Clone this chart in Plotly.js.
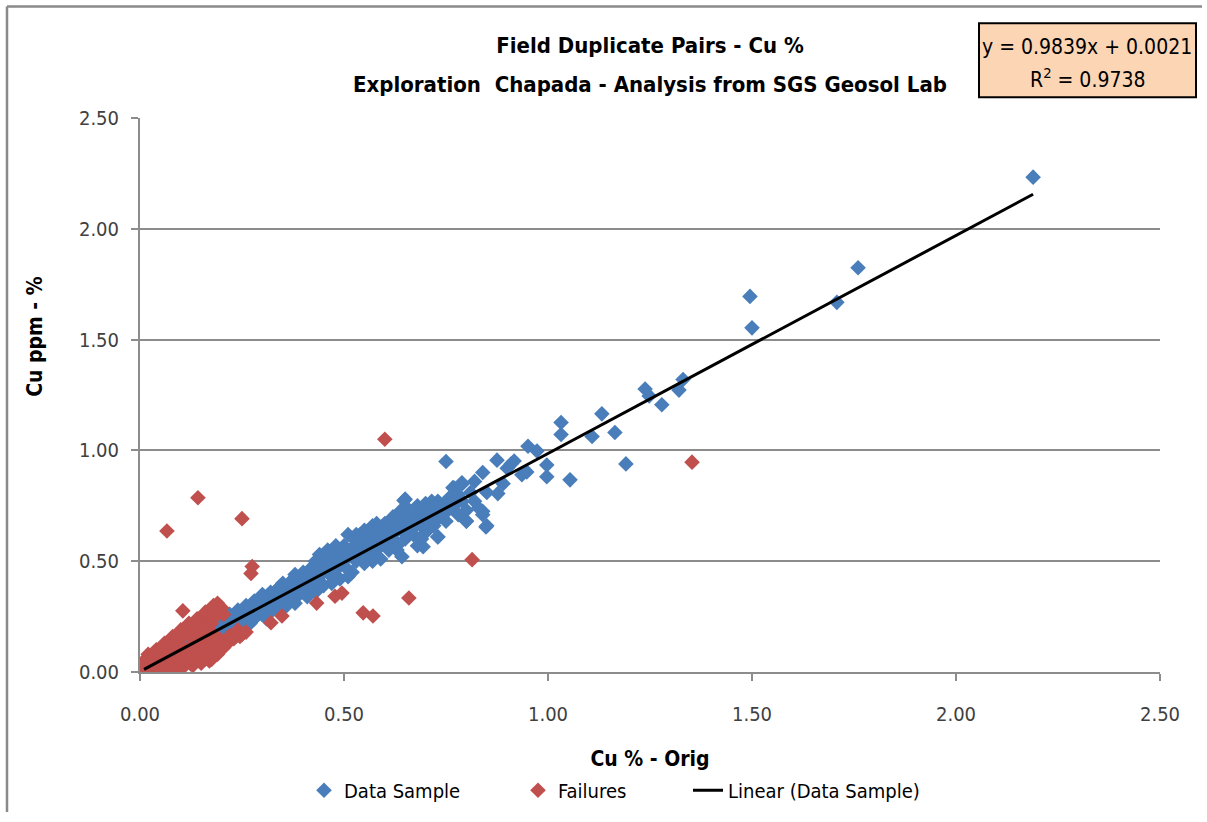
<!DOCTYPE html>
<html>
<head>
<meta charset="utf-8">
<script src="https://cdn.plot.ly/plotly-3.0.1.min.js"></script>
<style>
html,body{margin:0;padding:0;background:#fff;}
#chart{width:1207px;height:822px;}
</style>
</head>
<body>
<div id="chart"></div>
<script>
// ---- Data ----
const chartTitle = "Field Duplicate Pairs - Cu %";
const chartSubtitle = "Exploration  Chapada - Analysis from SGS Geosol Lab";
const xTitle = "Cu % - Orig";
const yTitle = "Cu ppm - %";
const seriesNames = ["Data Sample", "Failures", "Linear (Data Sample)"];
const trendSlope = 0.9839;
const trendIntercept = 0.0021;
const trendR2 = 0.9738;
const tickValues = [0, 0.5, 1.0, 1.5, 2.0, 2.5];

// Data Sample pairs [Cu % orig, Cu % duplicate]
const dataSample = [
 [0.01,0.02],[0.03,0.05],[0.05,0.06],[0.07,0.09],
 [0.09,0.13],[0.10,0.11],[0.11,0.15],[0.12,0.12],[0.13,0.16],[0.14,0.13],[0.15,0.18],[0.16,0.15],
 [0.17,0.20],[0.18,0.17],[0.19,0.22],[0.20,0.19],[0.20,0.24],[0.21,0.21],[0.22,0.26],[0.22,0.19],
 [0.23,0.23],[0.24,0.28],[0.24,0.21],[0.25,0.25],[0.26,0.30],[0.26,0.22],[0.27,0.27],[0.28,0.32],
 [0.28,0.24],[0.29,0.28],[0.30,0.35],[0.30,0.26],[0.31,0.31],[0.31,0.24],[0.32,0.36],[0.33,0.30],
 [0.33,0.34],[0.34,0.38],[0.34,0.28],[0.35,0.33],[0.35,0.40],[0.36,0.36],[0.36,0.30],[0.37,0.41],
 [0.37,0.33],[0.38,0.38],[0.38,0.44],[0.39,0.35],[0.39,0.41],[0.40,0.45],[0.40,0.37],[0.41,0.42],
 [0.41,0.34],[0.42,0.47],[0.42,0.39],[0.43,0.44],[0.43,0.50],[0.44,0.41],[0.44,0.47],[0.45,0.52],
 [0.45,0.39],[0.46,0.45],[0.46,0.53],[0.47,0.43],[0.47,0.49],[0.48,0.55],[0.48,0.46],[0.49,0.51],
 [0.49,0.42],[0.50,0.57],[0.50,0.48],[0.51,0.53],[0.51,0.62],[0.52,0.45],[0.52,0.56],[0.53,0.50],
 [0.53,0.59],[0.54,0.54],[0.54,0.62],[0.55,0.49],[0.55,0.57],[0.56,0.63],[0.56,0.53],[0.57,0.60],
 [0.57,0.66],[0.58,0.55],[0.58,0.62],[0.59,0.51],[0.59,0.65],[0.60,0.58],[0.60,0.67],[0.61,0.62],
 [0.61,0.55],[0.62,0.66],[0.62,0.60],[0.63,0.68],[0.63,0.57],[0.64,0.64],[0.64,0.70],[0.65,0.60],
 [0.65,0.78],[0.66,0.67],[0.66,0.73],[0.67,0.62],[0.67,0.70],[0.68,0.57],[0.68,0.75],[0.69,0.66],
 [0.69,0.72],[0.70,0.76],[0.70,0.63],[0.71,0.69],[0.71,0.74],[0.72,0.66],[0.72,0.71],[0.73,0.77],
 [0.73,0.61],[0.74,0.72],[0.75,0.68],[0.75,0.74],[0.76,0.79],[0.77,0.75],[0.77,0.83],[0.78,0.80],
 [0.78,0.71],[0.79,0.77],[0.80,0.73],[0.80,0.68],[0.81,0.81],[0.82,0.77],[0.82,0.86],[0.83,0.74],
 [0.84,0.71],[0.85,0.66],[0.85,0.81],[0.89,0.85],
 [0.105,0.125],[0.125,0.145],[0.145,0.165],[0.165,0.175],[0.185,0.205],[0.205,0.225],[0.215,0.18],
 [0.225,0.245],[0.235,0.25],[0.245,0.235],[0.255,0.28],[0.265,0.26],[0.275,0.30],[0.285,0.27],
 [0.295,0.32],[0.305,0.30],[0.315,0.34],[0.325,0.31],[0.335,0.37],[0.345,0.33],[0.355,0.37],
 [0.365,0.34],[0.375,0.39],[0.385,0.36],[0.395,0.43],[0.405,0.40],[0.415,0.45],[0.425,0.41],
 [0.435,0.46],[0.445,0.44],[0.455,0.49],[0.465,0.47],[0.475,0.52],[0.485,0.48],[0.495,0.54],
 [0.505,0.51],[0.515,0.55],[0.525,0.52],[0.535,0.56],[0.545,0.58],[0.555,0.60],[0.565,0.56],
 [0.575,0.63],[0.585,0.59],[0.595,0.62],[0.605,0.64],[0.615,0.65],[0.625,0.63],[0.635,0.66],
 [0.645,0.67],[0.655,0.69],[0.665,0.64],[0.675,0.72],[0.685,0.69],[0.695,0.74],[0.705,0.72],
 [0.715,0.77],[0.725,0.74],[0.735,0.70],[0.745,0.76],[0.755,0.73],[0.765,0.77],[0.44,0.53],
 [0.46,0.55],[0.48,0.57],[0.53,0.62],[0.55,0.64],[0.58,0.67],[0.62,0.70],[0.64,0.73],[0.38,0.31],
 [0.43,0.36],[0.47,0.40],[0.51,0.43],[0.57,0.50],[0.63,0.55],[0.69,0.60],[0.35,0.29],[0.27,0.22],
 [0.32,0.27],
 [0.75,0.95],[0.79,0.85],[0.84,0.90],[0.875,0.956],[0.917,0.952],[0.951,1.019],[0.973,0.997],
 [0.997,0.934],[0.997,0.881],[1.054,0.867],[0.936,0.890],[0.948,0.903],[1.032,1.126],[1.032,1.072],
 [1.108,1.063],[1.132,1.165],[1.164,1.081],[1.191,0.939],[1.238,1.277],[1.248,1.246],[1.279,1.206],
 [1.321,1.272],[1.331,1.32],[0.877,0.805],[0.84,0.725],[0.848,0.654],[0.80,0.681],[0.789,0.854],
 [0.767,0.832],[0.73,0.609],[0.694,0.565],[0.647,0.774],[0.642,0.52],[0.90,0.92],[0.91,0.94],
 [1.495,1.695],[1.50,1.553],[1.76,1.824],[1.708,1.668],[2.189,2.233]
];

// Failures pairs [Cu % orig, Cu % duplicate]
const failures = [
 [0.00,0.00],[0.01,0.02],[0.02,0.01],[0.01,0.04],[0.03,0.02],[0.02,0.05],[0.04,0.03],[0.03,0.06],
 [0.05,0.04],[0.04,0.07],[0.06,0.05],[0.05,0.08],[0.07,0.06],[0.06,0.10],[0.08,0.07],[0.07,0.11],
 [0.09,0.08],[0.08,0.12],[0.10,0.09],[0.09,0.14],[0.11,0.10],[0.10,0.15],[0.12,0.11],[0.11,0.17],
 [0.13,0.12],[0.12,0.18],[0.14,0.13],[0.13,0.20],[0.15,0.14],[0.14,0.21],[0.16,0.15],[0.15,0.23],
 [0.17,0.16],[0.16,0.24],[0.18,0.17],[0.17,0.26],[0.19,0.28],[0.18,0.30],[0.20,0.27],[0.19,0.31],
 [0.20,0.29],[0.105,0.276],[0.07,0.00],[0.05,0.01],[0.08,0.02],[0.10,0.03],[0.12,0.05],[0.14,0.07],
 [0.16,0.06],[0.17,0.05],[0.18,0.10],[0.20,0.12],[0.21,0.14],[0.22,0.164],[0.237,0.164],[0.24,0.19],
 [0.15,0.04],[0.13,0.09],[0.11,0.06],[0.09,0.04],[0.03,0.00],[0.00,0.03],[0.02,0.08],[0.04,0.10],
 [0.06,0.13],[0.08,0.16],[0.10,0.19],[0.12,0.22],[0.14,0.24],[0.16,0.27],[0.19,0.08],[0.176,0.058],
 [0.13,0.03],[0.25,0.17],
 [0.005,0.015],[0.015,0.005],[0.025,0.03],[0.035,0.04],[0.045,0.05],[0.055,0.06],[0.065,0.08],
 [0.075,0.085],[0.085,0.095],[0.095,0.11],[0.035,0.015],[0.055,0.03],[0.075,0.04],[0.095,0.06],
 [0.115,0.08],[0.135,0.10],[0.155,0.11],[0.175,0.13],[0.195,0.15],[0.015,0.06],[0.035,0.09],
 [0.055,0.115],[0.075,0.14],[0.095,0.165],[0.115,0.19],[0.135,0.215],[0.155,0.20],[0.175,0.22],
 [0.185,0.25],[0.195,0.27],[0.205,0.26],[0.125,0.16],[0.145,0.18],[0.165,0.19],[0.06,0.02],
 [0.085,0.01],[0.105,0.02],[0.125,0.035],[0.145,0.05],[0.165,0.08],[0.185,0.09],[0.205,0.11],
 [0.215,0.13],[0.23,0.15],[0.245,0.16],[0.26,0.18],[0.02,0.03],[0.01,0.00],[0.005,0.04],[0.03,0.035],
 [0.066,0.636],[0.142,0.786],[0.25,0.692],[0.60,1.05],[0.275,0.476],[0.272,0.445],[0.433,0.311],
 [0.478,0.342],[0.495,0.356],[0.547,0.267],[0.571,0.253],[0.659,0.334],[0.814,0.507],[1.353,0.947],
 [0.321,0.222],[0.348,0.253]
];

// ---- Build traces ----
const sx = dataSample.map(p => p[0]), sy = dataSample.map(p => p[1]);
const fx = failures.map(p => p[0]), fy = failures.map(p => p[1]);
const tx = [Math.min(...sx), Math.max(...sx)];
const ty = tx.map(x => trendSlope * x + trendIntercept);

const FONT = "'DejaVu Sans Condensed', 'DejaVu Sans', sans-serif";
const GRID = '#8c8c8c';

const traces = [
  {type:'scatter', mode:'markers', name:seriesNames[0], x:sx, y:sy, legend:'legend',
   marker:{symbol:'diamond', size:12, color:'#4A7EBB', line:{width:0}}},
  {type:'scatter', mode:'markers', name:seriesNames[1], x:fx, y:fy, legend:'legend2',
   marker:{symbol:'diamond', size:12, color:'#C0504D', line:{width:0}}},
  {type:'scatter', mode:'lines', name:seriesNames[2], x:tx, y:ty, legend:'legend3',
   line:{color:'#000000', width:3}}
];

const axisCommon = {
  range:[0,2.5], tickvals:tickValues, tickformat:'.2f',
  showline:true, linecolor:GRID, linewidth:2,
  ticks:'outside', ticklen:7, tickcolor:GRID, tickwidth:2,
  zeroline:false, tickfont:{family:FONT, size:20, color:'#404040'}, fixedrange:true
};

const LEGY = (680-800)/562;
const legendCommon = {orientation:'h', xanchor:'left', y:LEGY, yanchor:'middle',
  font:{family:FONT, size:20, color:'#000'}, bgcolor:'rgba(0,0,0,0)', borderwidth:0};

const layout = {
  width:1207, height:822,
  margin:{l:140, r:47, t:118, b:142},
  paper_bgcolor:'#ffffff', plot_bgcolor:'#ffffff',
  font:{family:FONT, color:'#000'},
  showlegend:true,
  title:{text:'<b>'+chartTitle+'</b>', x:650/1207, xanchor:'center', xref:'container',
         y:1-45/822, yanchor:'middle', yref:'container', font:{family:FONT, size:22, color:'#000'}},
  xaxis:Object.assign({}, axisCommon, {showgrid:false, ticklabelstandoff:16,
         title:{text:'<b>'+xTitle+'</b>', standoff:26, font:{family:FONT, size:21, color:'#000'}}}),
  yaxis:Object.assign({}, axisCommon, {showgrid:true, gridcolor:GRID, gridwidth:2, ticklabelstandoff:8}),
  legend:Object.assign({}, legendCommon, {x:(304-140)/1020}),
  legend2:Object.assign({}, legendCommon, {x:(518-140)/1020}),
  legend3:Object.assign({}, legendCommon, {x:(688-140)/1020}),
  shapes:[
    {type:'rect', xref:'paper', yref:'paper', x0:(979-140)/1020, x1:(1196-140)/1020,
     y0:(680-97)/562, y1:(680-22)/562, fillcolor:'#FCD5B5', line:{color:'#000', width:2}},
    {type:'line', xref:'paper', yref:'paper', x0:(7-140)/1020, x1:(1202-140)/1020,
     y0:(680-5)/562, y1:(680-5)/562, line:{color:'#8a8a8a', width:2.5}},
    {type:'line', xref:'paper', yref:'paper', x0:(7-140)/1020, x1:(7-140)/1020,
     y0:(680-5)/562, y1:(680-822)/562, line:{color:'#8a8a8a', width:2.5}}
  ],
  annotations:[
    {text:'<b>'+chartSubtitle+'</b>', xref:'paper', yref:'paper', x:0.5, y:(680-84)/562,
     xanchor:'center', yanchor:'middle', showarrow:false, font:{family:FONT, size:22, color:'#000'}},
    {text:'y = '+trendSlope.toFixed(4)+'x + '+trendIntercept.toFixed(4), xref:'paper', yref:'paper',
     x:(1087-140)/1020, y:(680-46)/562, xanchor:'center', yanchor:'middle', showarrow:false,
     font:{family:FONT, size:21, color:'#000'}},
    {text:'R<sup>2</sup> = '+trendR2.toFixed(4), xref:'paper', yref:'paper',
     x:(1087-140)/1020, y:(680-77)/562, xanchor:'center', yanchor:'middle', showarrow:false,
     font:{family:FONT, size:21, color:'#000'}},
    {text:'<b>'+yTitle+'</b>', xref:'paper', yref:'paper', x:(35-140)/1020, y:(680-340)/562,
     xanchor:'center', yanchor:'middle', textangle:-90, showarrow:false,
     font:{family:FONT, size:21, color:'#000'}}
  ]
};

Plotly.newPlot('chart', traces, layout, {displayModeBar:false, staticPlot:true});
</script>
</body>
</html>
